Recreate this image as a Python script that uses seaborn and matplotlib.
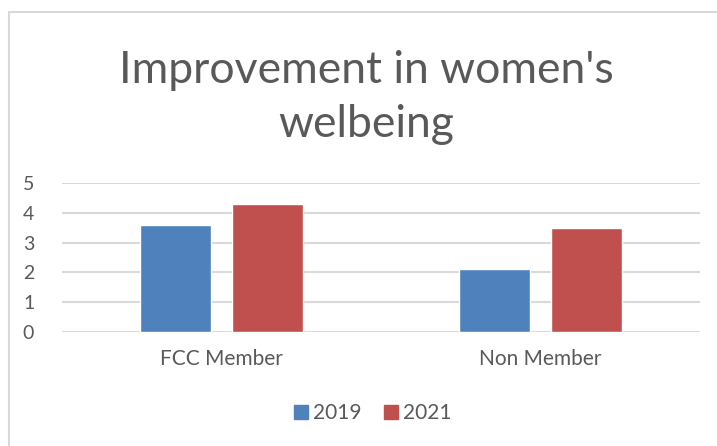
import pandas as pd
import matplotlib.pyplot as plt
import seaborn as sns
from matplotlib.patches import Rectangle

groups = ['FCC Member', 'Non Member']
years = ['2019', '2021']
vals_2019 = [3.6, 2.1]
vals_2021 = [4.3, 3.5]
y_ticks = [0, 1, 2, 3, 4, 5]

df = pd.DataFrame({
    'group': groups * 2,
    'year': [years[0]] * 2 + [years[1]] * 2,
    'value': vals_2019 + vals_2021,
})

sns.set_theme(style='white')
plt.rcParams['font.family'] = ['Lato', 'DejaVu Sans']
grey = '#595959'

fig = plt.figure(figsize=(7.17, 4.46), dpi=100)
ax = fig.add_axes([62 / 717, 1 - 332 / 446, (700 - 62) / 717, (332 - 183) / 446])

sns.barplot(data=df, x='group', y='value', hue='year', ax=ax,
            palette=['#4F81BD', '#C0504D'], width=0.571, gap=0.22,
            saturation=1, legend=False)

ax.set_ylim(0, 5)
ax.set_yticks(y_ticks)
ax.yaxis.grid(True, color='#D9D9D9', linewidth=1.5)
ax.set_axisbelow(True)
for s in ax.spines.values():
    s.set_visible(False)
ax.set_xlabel('')
ax.set_ylabel('')
ax.tick_params(axis='y', labelsize=14, labelcolor=grey, length=0, pad=20)
ax.tick_params(axis='x', labelsize=15, labelcolor=grey, length=0, pad=12)

fig.text(366 / 717, 1 - 137 / 446, "Improvement in women's\nwelbeing", ha='center',
         va='baseline', fontsize=32, color=grey, linespacing=1.4)

# legend
handles = [Rectangle((0, 0), 1, 1, color=c) for c in ['#4F81BD', '#C0504D']]
fig.legend(handles, years, loc='center', bbox_to_anchor=(373 / 717, 1 - 413 / 446),
           ncol=2, frameon=False, fontsize=15, labelcolor=grey,
           handlelength=0.65, handleheight=0.65, handletextpad=0.25, columnspacing=1.1)

# chart frame (cropped on the right and bottom)
fig.patches.append(Rectangle((9 / 717, -0.1), 1.2, 1 - 12 / 446 + 0.1,
                             transform=fig.transFigure, fill=False,
                             edgecolor='#D9D9D9', linewidth=1.5))

fig.savefig('out.png', dpi=100)
